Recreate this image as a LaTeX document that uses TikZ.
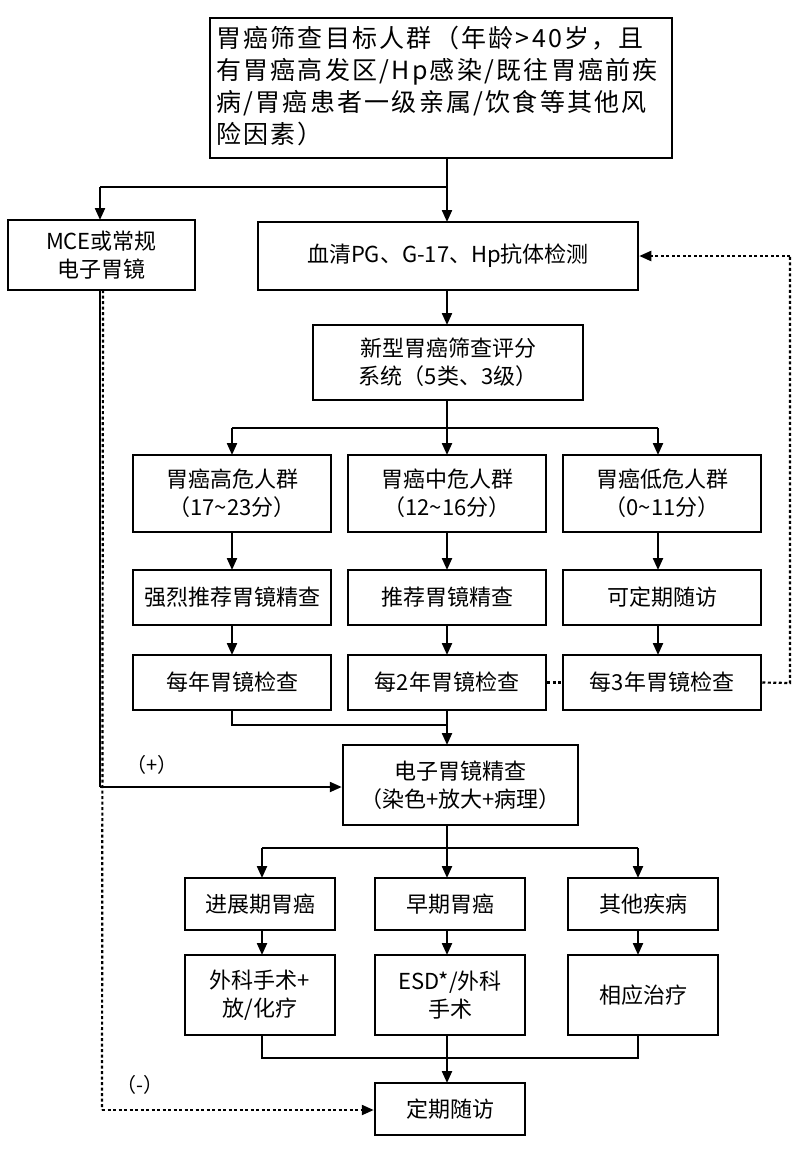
\documentclass[tikz,border=0pt]{standalone}
\usepackage{fontspec}
\setmainfont{Noto Sans CJK SC}
\usetikzlibrary{arrows.meta}
\begin{document}
\begin{tikzpicture}[x=1pt,y=-1pt,
 bx/.style={draw,line width=2.5pt,align=center,font=\fontsize{22}{28}\selectfont,inner sep=0pt},
 ar/.style={line width=2.2pt,-{Triangle[length=12pt,width=10pt]}},
 ln/.style={line width=2.2pt},
 dt/.style={line width=2.2pt,dash pattern=on 3pt off 2.5pt}]
\useasboundingbox[fill=white](0,0) rectangle (800,1151);
\newcommand\bx[6]{\node[bx,minimum width=#3-#2,minimum height=#5-#4] (#1) at ({(#2+#3)/2},{(#4+#5)/2}) {#6};}
\node[draw,line width=2.5pt,minimum width=462pt,minimum height=140pt] (top) at (441,88) {};
\node[align=left,font=\fontsize{25}{32}\selectfont\addfontfeature{LetterSpace=9},text width=460pt,anchor=north west,inner sep=0pt] at (216,26) {胃癌筛查目标人群（年龄>40岁，且\\有胃癌高发区/Hp感染/既往胃癌前疾\\病/胃癌患者一级亲属/饮食等其他风\\险因素）};
\bx{mce}{8}{195}{220}{290}{MCE或常规\\电子胃镜}
\bx{pg}{258}{638}{222}{290}{血清PG、G-17、Hp抗体检测}
\bx{sc}{313}{583}{325}{400}{新型胃癌筛查评分\\系统（5类、3级）}
\bx{h1}{133}{331}{455}{532}{胃癌高危人群\\（17\textasciitilde23分）}
\bx{h2}{348}{546}{455}{532}{胃癌中危人群\\（12\textasciitilde16分）}
\bx{h3}{563}{761}{455}{532}{胃癌低危人群\\（0\textasciitilde11分）}
\bx{r1}{133}{331}{570}{625}{强烈推荐胃镜精查}
\bx{r2}{348}{546}{570}{625}{推荐胃镜精查}
\bx{r3}{563}{761}{570}{625}{可定期随访}
\bx{y1}{133}{331}{655}{710}{每年胃镜检查}
\bx{y2}{348}{546}{655}{710}{每2年胃镜检查}
\bx{y3}{563}{761}{655}{710}{每3年胃镜检查}
\bx{ex}{343}{578}{745}{825}{电子胃镜精查\\（染色+放大+病理）}
\bx{d1}{185}{335}{878}{930}{进展期胃癌}
\bx{d2}{375}{525}{878}{930}{早期胃癌}
\bx{d3}{568}{718}{878}{930}{其他疾病}
\bx{t1}{185}{335}{955}{1035}{外科手术+\\放/化疗}
\bx{t2}{375}{525}{955}{1035}{ESD*/外科\\手术}
\bx{t3}{568}{718}{955}{1035}{相应治疗}
\bx{fu}{375}{525}{1083}{1135}{定期随访}
% top split
\draw[ln] (447,158) -- (447,187) -- (100,187);
\draw[ar] (447,187) -- (447,222);
\draw[ar] (100,187) -- (100,220);
\draw[ar] (447,290) -- (447,325);
\draw[ln] (447,400) -- (447,428);
\draw[ln] (232,428) -- (658,428);
\draw[ar] (232,428) -- (232,455);
\draw[ar] (447,428) -- (447,455);
\draw[ar] (658,428) -- (658,455);
\foreach \x in {232,447,658}{\draw[ar] (\x,532) -- (\x,570); \draw[ar] (\x,625) -- (\x,655);}
\draw[ln] (232,710) -- (232,725) -- (447,725);
\draw[ar] (447,710) -- (447,745);
\draw[dt] (y2.east) -- (y3.west);
\draw[dt] (y3.east) -- (790,683) -- (790,256);
\draw[dt,-{Triangle[length=12pt,width=10pt]}] (790,256) -- (pg.east);
% MCE lines
\coordinate (m1) at (100,787);
\coordinate (m2) at (102,1110);
\draw[ln] (100,290) -- (m1);
\draw[ar] (m1) -- (ex.west |- m1);
\node[font=\fontsize{20}{20}\selectfont] (plus) at (152,765) {（+）};
\draw[dt] (103,290) -- (m2);
\draw[dt,-{Triangle[length=12pt,width=10pt]}] (m2) -- (fu.west |- m2);
\node[font=\fontsize{20}{20}\selectfont] (minus) at (140,1085) {（-）};
% exam split
\draw[ln] (447,825) -- (447,848);
\draw[ln] (262,848) -- (638,848);
\foreach \x in {262,447,638}{\draw[ar] (\x,848) -- (\x,878); \draw[ar] (\x,930) -- (\x,955);}
\draw[ln] (262,1035) -- (262,1058) -- (638,1058) -- (638,1035);
\draw[ar] (447,1035) -- (447,1083);
\end{tikzpicture}
\end{document}
